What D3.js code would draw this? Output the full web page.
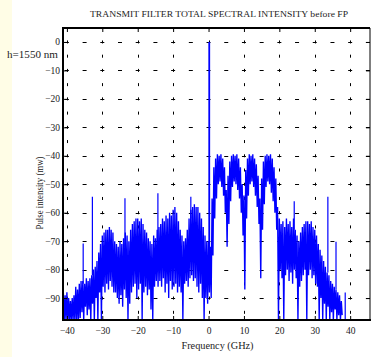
<!DOCTYPE html>
<html><head><meta charset="utf-8">
<script src="https://cdn.jsdelivr.net/npm/d3@7/dist/d3.min.js"></script>
<style>body{margin:0;background:#fff}svg{display:block}</style>
</head><body><svg id="c" width="373" height="357"></svg>
<script>
// ---- data ----
const freqStart = -41, freqEnd = 37.5, freqStep = 0.5;
const hiValues = [
 -88,-89,-88,-90,-91,-90,-89,-86,-87,
 -85,-84,-84,-85,-83,-84,-83,-82,
 -80,-79,-77,-74,-71,
 -68,-67,-66,-66,-65,-66,-67,
 -70,-71,-72,-70,-71,-69,-67,-68,
 -70,-66,-64,-63,-62,-62,-63,-62,-64,-66,-67,-69,-70,
 -71,-68,-69,-66,
 -65,-64,-62,-63,-61,-62,-60,-61,-59,-58,-60,
 -63,-66,-68,-70,-69,-66,-62,
 -59,-58,-57,-58,-58,-60,-62,-65,-68,-70,
 -70,-72,
 -55,-44,-41,-39.5,-40,-39.5,-41,-44,-52,-47,-42,-40,-39.5,-40,-39.5,-41,-44,-50,-54,-45,
 -41,-39.5,-40,-39.5,-41,-43,-47,-55,-48,-42,-40,-39.5,-40,-39.5,-41,-44,-48,-58,
 -62,-64,-63,-65,-62,-64,-63,-65,-62,-66,-68,-70,-67,-65,-64,-63,-63,-64,-63,-65,
 -66,-68,-71,-73,-75,-77,-79,-81,-82,-84,-85,-86,-87,-88,-89,-91
];
const loValues = [
 -98,-98,-98,-98,-98,-98,-98,-98,-98,
 -97,-95,-98,-93,-96,-94,-98,-92,
 -98,-90,-98,-88,-98,
 -86,-88,-85,-87,-84,-86,-88,
 -88,-90,-92,-89,-93,-87,-90,-98,
 -92,-88,-86,-85,-90,-87,-85,-98,-88,-86,-89,-87,-94,
 -98,-86,-84,-86,
 -84,-86,-83,-88,-85,-90,-84,-87,-86,-85,-88,
 -86,-88,-98,-85,-84,-86,-83,
 -82,-84,-83,-86,-88,-85,-90,-98,-90,-92,
 -88,-90,
 -75,-62,-55,-50,-49,-51,-54,-60,-72,-64,-56,-51,-49,-50,-52,-55,-60,-68,-87,-62,
 -54,-50,-49,-51,-54,-58,-64,-83,-66,-57,-51,-49,-50,-53,-56,-60,-66,-98,
 -80,-83,-98,-82,-80,-84,-81,-85,-80,-83,-98,-86,-84,-82,-80,-98,-82,-80,-83,-82,
 -85,-86,-98,-90,-98,-92,-98,-93,-98,-95,-98,-94,-98,-96,-98,-96
];
const spikeFreq = [-35.4, -32.8, -23.6, -14.3, -5.0, 0.2, 24.2, 33.7, 36.0, 38.6];
const spikeTop  = [-70.8, -54.4, -54.9, -53.2, -54.4, 0, -56, -54.4, -70.2, -88];
const spikeBase = [-85, -82, -72, -70, -62, -75, -66, -81, -87, -98];
const xTicks = [-40,-30,-20,-10,0,10,20,30,40];
const yTicks = [0,-10,-20,-30,-40,-50,-60,-70,-80,-90];
const titleText = "TRANSMIT FILTER TOTAL SPECTRAL INTENSITY before FP";
const xLabel = "Frequency (GHz)";
const yLabel = "Pulse intensity (mw)";
const noteText = "h=1550 nm";

// ---- layout ----
const L = 63, R = 370, T = 28, B = 320;
const svg = d3.select("#c");
const x = d3.scaleLinear().domain([-41.1, 45.6]).range([L, R]);
const y = d3.scaleLinear().domain([-97.7, 4.9]).range([B, T]);
const font = "'Liberation Serif','Times New Roman',serif";

svg.append("rect").attr("x",0).attr("y",0).attr("width",373).attr("height",357).attr("fill","#fff");
svg.append("rect").attr("x",0).attr("y",0).attr("width",12).attr("height",357).attr("fill","#fffde6");

svg.append("defs").append("clipPath").attr("id","clip")
  .append("rect").attr("x",L).attr("y",T).attr("width",R-L).attr("height",B-T);

// grid
const grid = svg.append("g").attr("stroke","#000").attr("stroke-width",1).attr("fill","none");
const hPeriod = (x(10)-x(0))/2, vPeriod = (y(0)-y(10))/2;
yTicks.forEach(t => {
  const yy = Math.round(y(t))+0.5;
  grid.append("line").attr("x1",L).attr("x2",R).attr("y1",yy).attr("y2",yy)
    .attr("stroke-dasharray",`4,${hPeriod-4}`)
    .attr("stroke-dashoffset", ((-(x(-40)-2-L)) % hPeriod + hPeriod) % hPeriod);
});
xTicks.forEach(t => {
  const xx = Math.round(x(t))+0.5;
  grid.append("line").attr("x1",xx).attr("x2",xx).attr("y1",T).attr("y2",B)
    .attr("stroke-dasharray",`3,${vPeriod-3}`)
    .attr("stroke-dashoffset", ((-(y(0)-1.5-T)) % vPeriod + vPeriod) % vPeriod);
});

// spectrum (zig-zag between upper and lower envelope per bin)
const freqs = d3.range(freqStart, freqEnd + freqStep/2, freqStep);
const pts = [];
freqs.forEach((f,i) => { pts.push([f, hiValues[i]]); pts.push([f + freqStep/2, loValues[i]]); });
const plot = svg.append("g").attr("clip-path","url(#clip)");
plot.append("path").datum(pts)
  .attr("d", d3.line().x(d=>x(d[0])).y(d=>y(d[1])))
  .attr("fill","none").attr("stroke","#0000ff").attr("stroke-width",1.35);
plot.selectAll("line.sp").data(spikeFreq).join("line").attr("class","sp")
  .attr("x1",d=>x(d)).attr("x2",d=>x(d))
  .attr("y1",(d,i)=>y(spikeTop[i])).attr("y2",(d,i)=>y(spikeBase[i]))
  .attr("stroke","#0000ff").attr("stroke-width",(d,i)=>spikeTop[i]===0?1.8:1.2);

// axes
const tickLen = 4;
const gx = svg.append("g").attr("transform",`translate(0,${B})`)
  .call(d3.axisBottom(x).tickValues(xTicks).tickSizeInner(-tickLen).tickSizeOuter(0).tickPadding(7));
const gy = svg.append("g").attr("transform",`translate(${L},0)`)
  .call(d3.axisLeft(y).tickValues(yTicks).tickSizeInner(-tickLen).tickSizeOuter(0).tickPadding(3));
const gt = svg.append("g").attr("transform",`translate(0,${T})`)
  .call(d3.axisTop(x).tickValues(xTicks).tickSizeInner(-tickLen).tickSizeOuter(0).tickFormat(""));
const gr = svg.append("g").attr("transform",`translate(${R},0)`)
  .call(d3.axisRight(y).tickValues(yTicks).tickSizeInner(-tickLen).tickSizeOuter(0).tickFormat(""));
[gx,gy,gt,gr].forEach(g => {
  g.select(".domain").remove();
  g.selectAll("line").attr("stroke","#000");
  g.selectAll("text").attr("font-family",font).attr("font-size",9.5).attr("fill","#222");
});

// frame
svg.append("line").attr("x1",L).attr("x2",R).attr("y1",T).attr("y2",T).attr("stroke","#000").attr("stroke-width",2);
svg.append("line").attr("x1",L).attr("x2",R+1).attr("y1",B).attr("y2",B).attr("stroke","#000").attr("stroke-width",2);
svg.append("line").attr("x1",L).attr("x2",L).attr("y1",T-1).attr("y2",B+1).attr("stroke","#000").attr("stroke-width",2);
svg.append("line").attr("x1",R).attr("x2",R).attr("y1",T).attr("y2",B).attr("stroke","#000").attr("stroke-width",1);

// texts
svg.append("text").attr("x",219).attr("y",17).attr("text-anchor","middle")
  .attr("font-family",font).attr("font-size",9).attr("fill","#222")
  .attr("textLength",258).attr("lengthAdjust","spacingAndGlyphs").text(titleText);
svg.append("text").attr("x",217.5).attr("y",349).attr("text-anchor","middle")
  .attr("font-family",font).attr("font-size",10).attr("fill","#222")
  .attr("textLength",72).attr("lengthAdjust","spacingAndGlyphs").text(xLabel);
svg.append("text").attr("transform","translate(43,193) rotate(-90)").attr("text-anchor","middle")
  .attr("font-family",font).attr("font-size",10).attr("fill","#222")
  .attr("textLength",73).attr("lengthAdjust","spacingAndGlyphs").text(yLabel);
svg.append("text").attr("x",7).attr("y",58)
  .attr("font-family",font).attr("font-size",10).attr("fill","#222")
  .attr("textLength",51).attr("lengthAdjust","spacingAndGlyphs").text(noteText);
</script></body></html>
